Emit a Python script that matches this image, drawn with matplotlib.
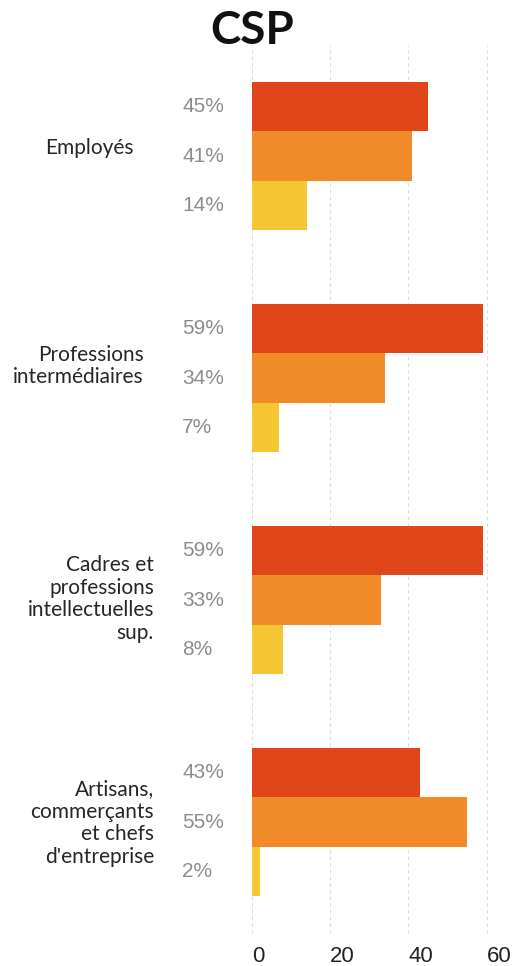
import matplotlib
matplotlib.use("Agg")
import matplotlib.pyplot as plt
import matplotlib.transforms as mtransforms
import numpy as np

categories = ["Employés", "Professions\nintermédiaires",
              "Cadres et\nprofessions\nintellectuelles\nsup.",
              "Artisans,\ncommerçants\net chefs\nd'entreprise"]
series_a = [45, 59, 59, 43]
series_b = [41, 34, 33, 55]
series_c = [14, 7, 8, 2]
xticks = [0, 20, 40, 60]
title = "CSP"

colors = ["#E0461A", "#F18A28", "#F5C634"]
label_offsets_px = [-8, -12, -1, 1]
label_right_px = [134, 144, 154, 154]

fig = plt.figure(figsize=(5.14, 9.66), dpi=100)
ax = fig.add_axes([251.7 / 514, 1 - 933 / 966, (510 - 251.7) / 514, (933 - 45) / 966])

y = np.arange(len(categories))
h = 0.223
pct_tr = mtransforms.blended_transform_factory(fig.transFigure, ax.transData)
for i, (vals, col) in enumerate(zip([series_a, series_b, series_c], colors)):
    ypos = y + (i - 1) * h
    ax.barh(ypos, vals, height=h, color=col, zorder=2)
    for yy, v in zip(ypos, vals):
        ax.text(182.3 / 514, yy, f"{v}%", transform=pct_tr,
                ha="left", va="center", fontsize=15, color="#8c8c8c",
                family="Liberation Sans")

ax.set_ylim(3.5, -0.5)
ax.set_xlim(0, (510 - 251.7) / 3.915)
ax.set_yticks([])
ax.set_xticks(xticks)
ax.set_xticklabels([str(t) for t in xticks], family="Liberation Sans",
                   fontsize=16, color="#222222", ha="left")
ax.tick_params(axis="x", length=0, pad=9.5)
for s in ax.spines.values():
    s.set_visible(False)
ax.grid(axis="x", color="#dcdcdc", linestyle=(0, (3, 3)), linewidth=0.8, zorder=0)

for yy, cat, off, rx in zip(y, categories, label_offsets_px, label_right_px):
    tr = ax.transData + mtransforms.ScaledTranslation(0, -off / 100, fig.dpi_scale_trans)
    ax.text(rx / 514, yy, cat, transform=mtransforms.blended_transform_factory(
        fig.transFigure, tr), ha="right", va="center", fontsize=15,
        family="Lato", color="#262626", linespacing=1.15,
        multialignment="right")

fig.text(252 / 514, 1 - 31.5 / 966, title, ha="center", va="center",
         fontsize=33, fontweight="bold", family="Lato", color="#111111")

fig.savefig("out.png", dpi=100)
